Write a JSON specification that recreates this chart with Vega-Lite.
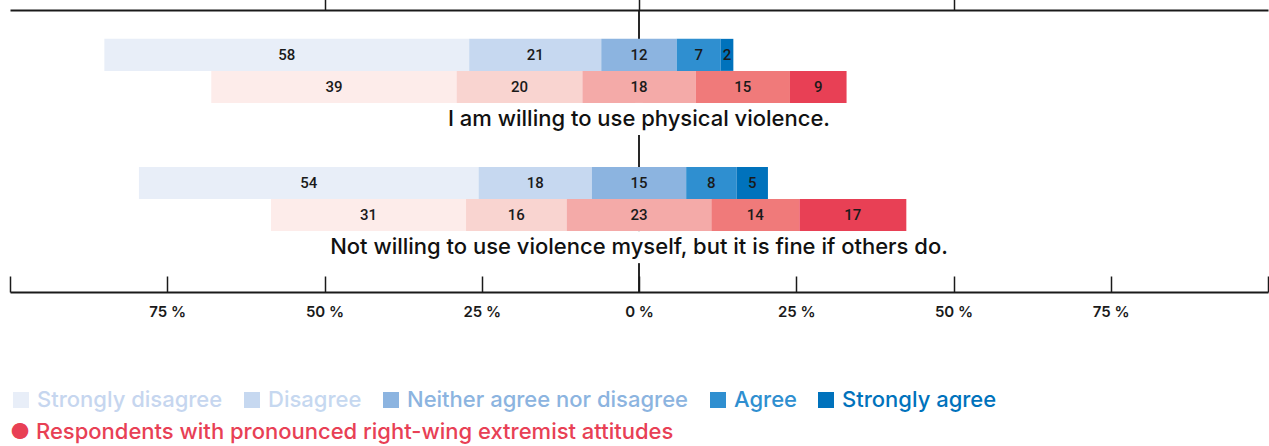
{
  "$schema": "https://vega.github.io/schema/vega-lite/v6.json",
  "width": 1258,
  "height": 282,
  "autosize": {"type": "none"},
  "padding": {"left": 10, "top": 10, "right": 1, "bottom": 154},
  "background": "white",
  "config": {"view": {"stroke": null}, "font": "Inter"},
  "datasets": {
    "survey": [
      {"question": "q1", "group": "all", "response": "Strongly disagree", "value": 58},
      {"question": "q1", "group": "all", "response": "Disagree", "value": 21},
      {"question": "q1", "group": "all", "response": "Neither agree nor disagree", "value": 12},
      {"question": "q1", "group": "all", "response": "Agree", "value": 7},
      {"question": "q1", "group": "all", "response": "Strongly agree", "value": 2},
      {"question": "q1", "group": "rw", "response": "Strongly disagree", "value": 39},
      {"question": "q1", "group": "rw", "response": "Disagree", "value": 20},
      {"question": "q1", "group": "rw", "response": "Neither agree nor disagree", "value": 18},
      {"question": "q1", "group": "rw", "response": "Agree", "value": 15},
      {"question": "q1", "group": "rw", "response": "Strongly agree", "value": 9},
      {"question": "q2", "group": "all", "response": "Strongly disagree", "value": 54},
      {"question": "q2", "group": "all", "response": "Disagree", "value": 18},
      {"question": "q2", "group": "all", "response": "Neither agree nor disagree", "value": 15},
      {"question": "q2", "group": "all", "response": "Agree", "value": 8},
      {"question": "q2", "group": "all", "response": "Strongly agree", "value": 5},
      {"question": "q2", "group": "rw", "response": "Strongly disagree", "value": 31},
      {"question": "q2", "group": "rw", "response": "Disagree", "value": 16},
      {"question": "q2", "group": "rw", "response": "Neither agree nor disagree", "value": 23},
      {"question": "q2", "group": "rw", "response": "Agree", "value": 14},
      {"question": "q2", "group": "rw", "response": "Strongly agree", "value": 17}
    ],
    "labels": [
      {"slot": "q1|label", "text": "I am willing to use physical violence."},
      {"slot": "q2|label", "text": "Not willing to use violence myself, but it is fine if others do."}
    ]
  },
  "resolve": {"axis": {"x": "independent"}},
  "layer": [
    {
      "data": {"name": "labels"},
      "mark": {"type": "rule", "color": "#1a1a1a", "strokeWidth": 1.5},
      "encoding": {
        "x": {"datum": 0, "type": "quantitative", "scale": {"domain": [-100, 100], "nice": false, "zero": false}, "axis": null}
      }
    },
    {
      "data": {"name": "survey"},
      "transform": [
        {"calculate": "datum.question + '|' + datum.group", "as": "slot"},
        {"calculate": "indexof(['Strongly disagree','Disagree','Neither agree nor disagree','Agree','Strongly agree'], datum.response)", "as": "order"},
        {"window": [{"op": "sum", "field": "value", "as": "cum"}], "groupby": ["slot"], "sort": [{"field": "order"}], "frame": [null, 0]},
        {"calculate": "datum.order < 2 ? datum.value : (datum.order == 2 ? datum.value / 2 : 0)", "as": "negpart"},
        {"joinaggregate": [{"op": "sum", "field": "negpart", "as": "offset"}], "groupby": ["slot"]},
        {"calculate": "datum.cum - datum.value - datum.offset", "as": "start"},
        {"calculate": "datum.cum - datum.offset", "as": "end"},
        {"calculate": "(datum.start + datum.end) / 2", "as": "mid"},
        {"calculate": "datum.group == 'all' ? datum.response : 'RW ' + datum.response", "as": "colorKey"}
      ],
      "layer": [
        {
          "mark": {"type": "bar", "strokeWidth": 0},
          "encoding": {
            "y": {"field": "slot", "type": "nominal", "scale": {"domain": ["q1|all", "q1|rw", "q1|label", "gap", "q2|all", "q2|rw", "q2|label"], "paddingInner": 0, "paddingOuter": 0.9}, "axis": null},
            "x": {"field": "start", "type": "quantitative", "scale": {"domain": [-100, 100], "nice": false, "zero": false},
              "axis": {"orient": "top", "values": [-50, 0, 50], "labels": false, "title": null, "tickSize": 12, "grid": false,
                "domainColor": "#1a1a1a", "domainWidth": 2, "tickColor": "#1a1a1a", "tickWidth": 1.5}},
            "x2": {"field": "end"},
            "color": {
              "field": "colorKey", "type": "nominal",
              "scale": {
                "domain": ["Strongly disagree", "Disagree", "Neither agree nor disagree", "Agree", "Strongly agree",
                           "RW Strongly disagree", "RW Disagree", "RW Neither agree nor disagree", "RW Agree", "RW Strongly agree"],
                "range": ["#e8eef8", "#c6d8f0", "#8cb4e0", "#2f8fd0", "#0072bc",
                          "#fdecea", "#f9d4d0", "#f4aaa8", "#f07a7a", "#e84055"]
              },
              "legend": {
                "orient": "none", "legendX": 0, "legendY": 379, "direction": "horizontal", "padding": 0,
                "values": ["Strongly disagree", "Disagree", "Neither agree nor disagree", "Agree", "Strongly agree"],
                "title": "● Respondents with pronounced right-wing extremist attitudes",
                "titleOrient": "bottom", "titleAnchor": "start", "titleColor": "#e84055", "titleFont": "Inter",
                "titleFontSize": 22, "titleFontWeight": 500, "titlePadding": 11, "titleLimit": 1000,
                "symbolType": "square", "symbolSize": 256, "symbolStrokeWidth": 0, "symbolOpacity": 1,
                "labelFont": "Inter", "labelFontSize": 22, "labelFontWeight": 500, "labelOffset": 5, "labelLimit": 500,
                "columnPadding": 18,
                "encode": {
                  "labels": {"update": {"fill": {"signal": "datum.index === 0 ? '#c6d6ef' : scale('color', datum.value)"}}},
                  "symbols": {"update": {"fill": {"signal": "datum.index === 0 ? '#c6d6ef' : scale('color', datum.value)"}}}
                }
              }
            }
          }
        },
        {
          "mark": {"type": "text", "font": "Roboto", "fontSize": 15, "fontWeight": 500, "color": "#1a1a1a", "baseline": "middle", "align": "center"},
          "encoding": {
            "y": {"field": "slot", "type": "nominal"},
            "x": {"field": "mid", "type": "quantitative", "scale": {"domain": [-100, 100], "nice": false, "zero": false},
              "axis": {"orient": "bottom", "values": [-100, -75, -50, -25, 0, 25, 50, 75, 100], "title": null, "grid": false,
                "tickSize": -16, "labelPadding": 28, "labelOverlap": false, "labelFlush": false,
                "labelExpr": "abs(datum.value) == 100 ? '' : abs(datum.value) + ' %'",
                "labelFont": "Inter", "labelFontSize": 15, "labelFontWeight": 600, "labelColor": "#1a1a1a",
                "domainColor": "#1a1a1a", "domainWidth": 2, "tickColor": "#1a1a1a", "tickWidth": 1.5}},
            "text": {"field": "value", "type": "quantitative"}
          }
        }
      ]
    },
    {
      "data": {"name": "labels"},
      "mark": {"type": "bar", "color": "white"},
      "encoding": {
        "y": {"field": "slot", "type": "nominal"},
        "x": {"datum": -0.6, "type": "quantitative", "axis": null},
        "x2": {"datum": 0.6}
      }
    },
    {
      "data": {"name": "labels"},
      "mark": {"type": "text", "font": "Inter", "fontSize": 22, "fontWeight": 500, "color": "#111111", "baseline": "middle", "align": "center"},
      "encoding": {
        "y": {"field": "slot", "type": "nominal"},
        "x": {"datum": 0, "type": "quantitative", "axis": null},
        "text": {"field": "text", "type": "nominal"}
      }
    }
  ]
}
